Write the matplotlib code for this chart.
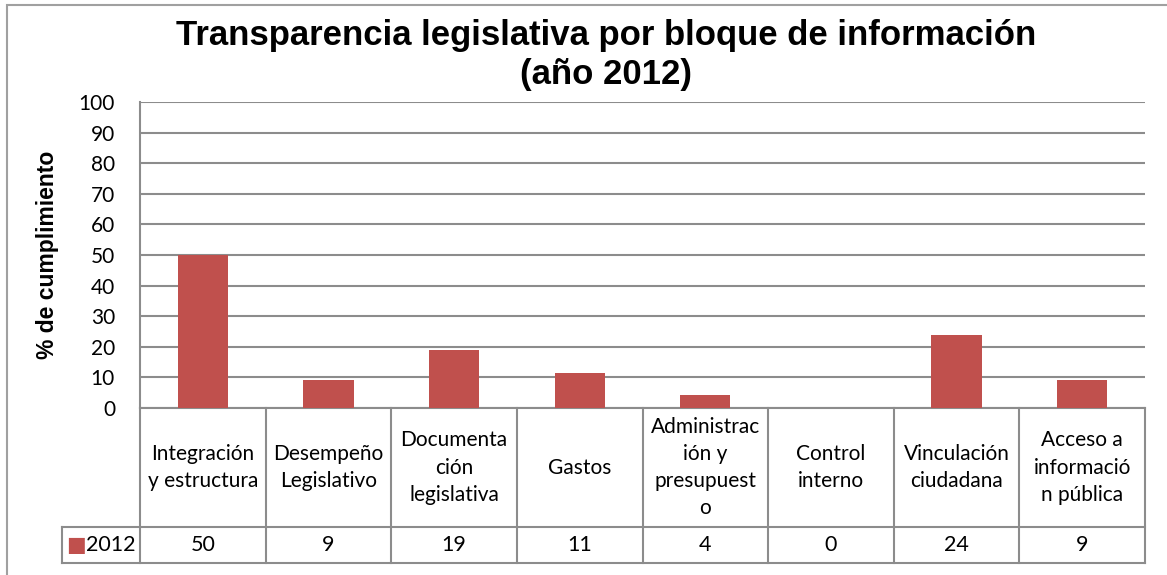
import matplotlib.pyplot as plt
from matplotlib.patches import Rectangle

categories = ["Integración\ny estructura", "Desempeño\nLegislativo", "Documenta\nción\nlegislativa",
              "Gastos", "Administrac\nión y\npresupuest\no", "Control\ninterno",
              "Vinculación\nciudadana", "Acceso a\ninformació\nn pública"]
values_2012 = [50, 9.3, 18.8, 11.4, 4.4, 0, 23.8, 9.3]
series_name = "2012"
yticks = list(range(0, 101, 10))

bar_color = "#C0504D"
grid_color = "#8C8C8C"
W, H = 1167, 575

fig = plt.figure(figsize=(W / 100, H / 100), dpi=100)
ax = fig.add_axes([140 / W, 1 - 408 / H, (1145 - 140) / W, (408 - 102) / H])

# outer chart border
fig.add_artist(Rectangle((7 / W, -0.1), 1.2, 1 - 5 / H + 0.1, transform=fig.transFigure,
                         fill=False, edgecolor="#A0A0A0", linewidth=1.5))

x = list(range(len(categories)))
ax.bar(x, values_2012, width=0.4, color=bar_color, zorder=3)

ax.set_xlim(-0.5, len(categories) - 0.5)
ax.set_ylim(0, 100)
ax.set_yticks(yticks)
ax.set_yticklabels([str(t) for t in yticks], fontsize=15, family="Lato")
ax.tick_params(axis="y", length=0, pad=18)
ax.set_xticks([])
ax.yaxis.grid(True, color=grid_color, linewidth=1.5, zorder=0)
for s in ["top", "right", "bottom"]:
    ax.spines[s].set_visible(False)
ax.spines["left"].set_color(grid_color)
ax.spines["left"].set_linewidth(1.5)

ax.set_ylabel("% de cumplimiento", fontsize=16.5, fontweight="bold",
              family="Liberation Sans", labelpad=14)

# data table below the axis
trans = ax.get_xaxis_transform()
y_head = -(527 - 408) / 306
y_val = -(563 - 408) / 306
x_leg = -0.5 - (140 - 62) / 125.6
lk = dict(color=grid_color, linewidth=1.5, transform=trans, clip_on=False)
ax.plot([-0.5, 7.5], [0, 0], **lk)
ax.plot([x_leg, 7.5], [y_head, y_head], **lk)
ax.plot([x_leg, 7.5], [y_val, y_val], **lk)
ax.plot([x_leg, x_leg], [y_head, y_val], **lk)
ax.plot([-0.5, -0.5], [0, y_val], **lk)
for i in range(len(categories)):
    ax.plot([i + 0.5, i + 0.5], [0, y_val], **lk)
    ax.text(i, y_head / 2, categories[i], transform=trans, ha="center", va="center",
            fontsize=15, family="Lato", linespacing=1.45)
    ax.text(i, (y_head + y_val) / 2, f"{values_2012[i]:.0f}", transform=trans,
            ha="center", va="center", fontsize=15.5, family="Lato")

# legend key in the table
ax.text(-0.5 - (140 - 76.5) / 125.6, (y_head + y_val) / 2, "■", transform=trans,
        ha="center", va="center", fontsize=15, color=bar_color, family="DejaVu Sans")
ax.text(-0.5 - (140 - 86) / 125.6, (y_head + y_val) / 2, series_name, transform=trans,
        ha="left", va="center", fontsize=15.5, family="Lato")

fig.text(606 / W, 1 - 55 / H, "Transparencia legislativa por bloque de información\n(año 2012)",
         ha="center", va="center", fontsize=25, fontweight="bold",
         family="Liberation Sans", linespacing=1.2)

fig.savefig("out.png", dpi=100)
